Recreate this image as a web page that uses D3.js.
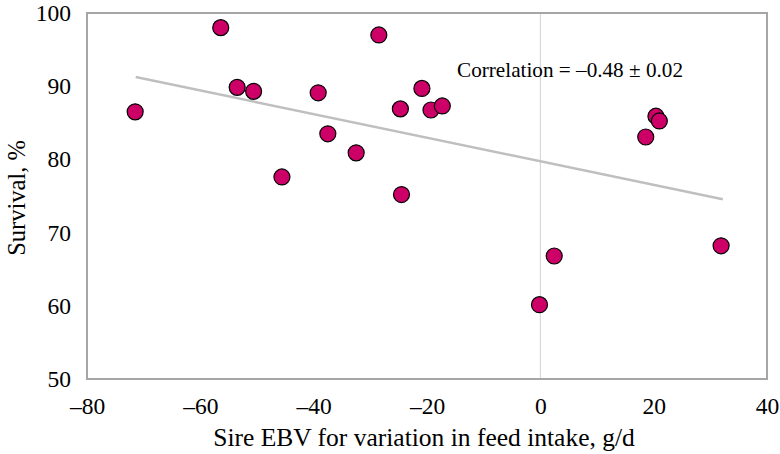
<!DOCTYPE html>
<html><head><meta charset="utf-8">
<script src="https://cdn.jsdelivr.net/npm/d3@7"></script>
<style>body{margin:0;background:#fff}svg{display:block}svg text{font-family:"Liberation Serif","Times New Roman",Tinos,"DejaVu Serif",serif !important}</style>
</head><body>
<svg id="c" width="780" height="454"></svg>
<script>
const sireEBV = [-71.5,-56.4,-53.5,-50.6,-45.6,-39.2,-37.5,-32.5,-28.5,-24.7,-24.5,-20.9,-19.3,-17.3,-0.15,2.45,18.6,20.4,21.0,31.9];
const survival = [86.5,98.0,89.85,89.3,77.6,89.1,83.5,80.9,97.0,86.9,75.2,89.7,86.75,87.3,60.15,66.8,83.06,85.9,85.25,68.2];
const trendX = [-71.4, 32.2];
const trendY = [91.25, 74.55];
const xTicks = [-80,-60,-40,-20,0,20,40];
const yTicks = [50,60,70,80,90,100];
const xTitle = "Sire EBV for variation in feed intake, g/d";
const yTitle = "Survival, %";
const note = "Correlation = \u20130.48 \u00b1 0.02";

const svg = d3.select("#c");
const L=87, R=767, T=13, B=379;
const x = d3.scaleLinear().domain([-80,40]).range([L,R]);
const y = d3.scaleLinear().domain([50,100]).range([B,T]);
const fmt = d => d<0 ? "\u2013"+Math.abs(d) : String(d);

svg.append("line").attr("x1",x(0)).attr("x2",x(0)).attr("y1",T).attr("y2",B)
  .attr("stroke","#d0d0d0").attr("stroke-width",1);

svg.append("rect").attr("x",L).attr("y",T).attr("width",R-L).attr("height",B-T)
  .attr("fill","none").attr("stroke","#a6a6a6").attr("stroke-width",2);

const xa = svg.append("g").attr("transform",`translate(0,${B})`)
  .call(d3.axisBottom(x).tickValues(xTicks).tickFormat(fmt).tickSize(0).tickPadding(18));
const ya = svg.append("g").attr("transform",`translate(${L},0)`)
  .call(d3.axisLeft(y).tickValues(yTicks).tickFormat(fmt).tickSize(0).tickPadding(16));
[xa,ya].forEach(a=>{
  a.select(".domain").remove();
  a.attr("font-family",null).attr("font-size",null);
  a.selectAll("text").style("font-size","23.5px").attr("fill","#000");
});

svg.append("path").datum(trendX.map((v,i)=>[v,trendY[i]]))
  .attr("d", d3.line().x(d=>x(d[0])).y(d=>y(d[1])))
  .attr("stroke","#bfbfbf").attr("stroke-width",2.5).attr("fill","none");

svg.append("g").selectAll("circle").data(sireEBV.map((v,i)=>[v,survival[i]])).join("circle")
  .attr("cx",d=>x(d[0])).attr("cy",d=>y(d[1])).attr("r",8)
  .attr("fill","#cc0066").attr("stroke","#000").attr("stroke-width",1.2);

svg.append("text").attr("x",457).attr("y",77).text(note)
  .style("font-size","21.2px").attr("fill","#000");

svg.append("text").attr("x",(L+R)/2 - 3).attr("y",446).attr("text-anchor","middle")
  .style("font-size","25.5px").text(xTitle);
svg.append("text").attr("transform",`translate(25,${(T+B)/2 + 2}) rotate(-90)`).attr("text-anchor","middle")
  .style("font-size","24.5px").text(yTitle);
</script>
</body></html>
